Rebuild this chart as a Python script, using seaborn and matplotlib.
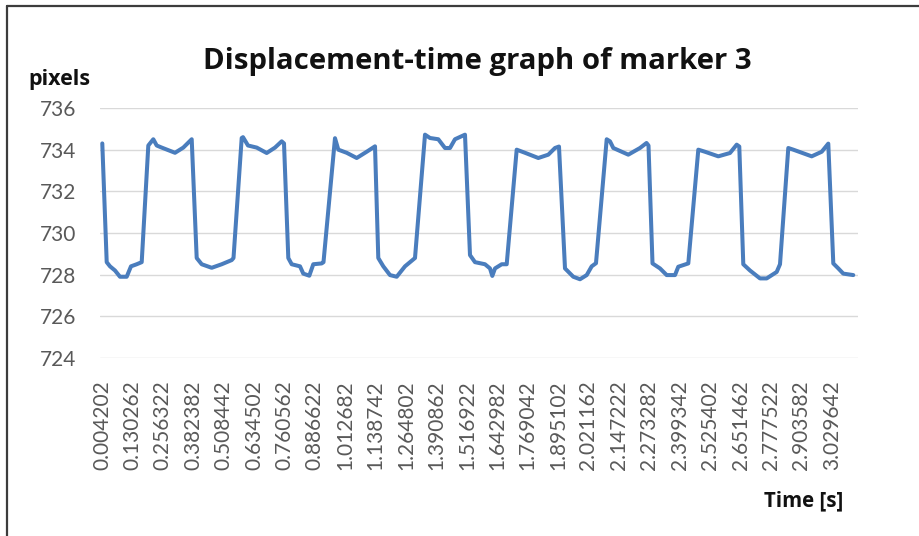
import matplotlib
matplotlib.use("Agg")
import matplotlib.pyplot as plt
from matplotlib.lines import Line2D
import pandas as pd
import seaborn as sns

# Vertical position of marker 3 (pixels) at the listed times (s)
time_s = [
    0.0054, 0.0237, 0.0374, 0.0581, 0.0788, 0.1066, 0.1244, 0.1481, 0.1688,
    0.1962, 0.2169, 0.2310, 0.2517, 0.3069, 0.3413, 0.3761,
    0.3968, 0.4176, 0.4590, 0.5005, 0.5419, 0.5494,
    0.5834, 0.5888, 0.6095, 0.6456, 0.6870, 0.7215, 0.7492, 0.7588,
    0.7766, 0.7907, 0.8251, 0.8388, 0.8637, 0.8802, 0.9151, 0.9225,
    0.9702, 0.9839, 1.0187, 1.0602, 1.1016, 1.1361,
    1.1497, 1.1705, 1.1982, 1.2260, 1.2604, 1.3019,
    1.3434, 1.3641, 1.3985, 1.4263, 1.4470, 1.4677, 1.5092,
    1.5299, 1.5507, 1.5921, 1.6128, 1.6224, 1.6336, 1.6614, 1.6821,
    1.7235, 1.7580, 1.8131, 1.8546, 1.8823, 1.8989,
    1.9238, 1.9582, 1.9860, 2.0138, 2.0345, 2.0523,
    2.0967, 2.1104, 2.1241, 2.1862, 2.2347, 2.2617, 2.2700,
    2.2866, 2.3177, 2.3454, 2.3799, 2.3935, 2.4350,
    2.4765, 2.5042, 2.5594, 2.6079, 2.6357, 2.6464,
    2.6630, 2.6908, 2.7323, 2.7600, 2.8015, 2.8152,
    2.8496, 2.8703, 2.9466, 2.9881, 3.0154,
    3.0362, 3.0569, 3.0776, 3.1191,
]
position_px = [
    734.30, 728.60, 728.40, 728.20, 727.90, 727.90, 728.40, 728.50, 728.60,
    734.20, 734.50, 734.20, 734.10, 733.85, 734.10, 734.50,
    728.80, 728.50, 728.33, 728.50, 728.70, 728.80,
    734.56, 734.60, 734.20, 734.10, 733.84, 734.10, 734.40, 734.30,
    728.80, 728.50, 728.40, 728.05, 727.95, 728.50, 728.54, 728.60,
    734.55, 734.00, 733.85, 733.60, 733.90, 734.16,
    728.80, 728.40, 727.98, 727.90, 728.40, 728.80,
    734.72, 734.56, 734.50, 734.08, 734.08, 734.50, 734.72,
    728.94, 728.60, 728.50, 728.30, 727.94, 728.30, 728.50, 728.50,
    734.00, 733.85, 733.60, 733.76, 734.08, 734.15,
    728.30, 727.90, 727.78, 727.98, 728.40, 728.55,
    734.50, 734.40, 734.08, 733.76, 734.08, 734.32, 734.20,
    728.54, 728.30, 727.98, 727.98, 728.38, 728.54,
    734.00, 733.90, 733.68, 733.84, 734.24, 734.15,
    728.50, 728.20, 727.82, 727.82, 728.13, 728.50,
    734.08, 734.00, 733.68, 733.90, 734.29,
    728.54, 728.30, 728.05, 727.98,
]

x_tick_labels = [
    "0.004202", "0.130262", "0.256322", "0.382382", "0.508442", "0.634502",
    "0.760562", "0.886622", "1.012682", "1.138742", "1.264802", "1.390862",
    "1.516922", "1.642982", "1.769042", "1.895102", "2.021162", "2.147222",
    "2.273282", "2.399342", "2.525402", "2.651462", "2.777522", "2.903582",
    "3.029642",
]
y_ticks = [724, 726, 728, 730, 732, 734, 736]

df = pd.DataFrame({"Time [s]": time_s, "pixels": position_px})

sns.set_theme(style="white")
plt.rcParams["font.family"] = ["Lato", "DejaVu Sans"]

W, H = 920, 536
fig = plt.figure(figsize=(W / 100, H / 100), dpi=100)
fig.patch.set_facecolor("white")
ax = fig.add_axes([100 / W, 1 - 358 / H, 758 / W, 250 / H])

sns.lineplot(data=df, x="Time [s]", y="pixels", ax=ax,
             color="#4a7dbd", linewidth=2.9, solid_joinstyle="round")

ax.set_ylim(724, 736)
ax.set_xlim(-0.0041, 3.1386)
ax.set_yticks(y_ticks)
ax.set_yticklabels([str(v) for v in y_ticks])
ax.set_xticks([float(s) for s in x_tick_labels])
ax.set_xticklabels(x_tick_labels, rotation=90)
ax.tick_params(axis="y", length=0, pad=17, labelsize=15, labelcolor="#595959")
ax.tick_params(axis="x", length=0, pad=16, labelsize=15, labelcolor="#595959")
ax.set_xlabel("")
ax.set_ylabel("")
ax.grid(axis="y", color="#d9d9d9", linewidth=1.0)
ax.grid(axis="x", visible=False)
for s in ax.spines.values():
    s.set_visible(False)

bold_font = ["Open Sans", "DejaVu Sans"]
fig.text(477 / W, 1 - 61 / H, "Displacement-time graph of marker 3",
         ha="center", va="center", fontsize=21.2, fontweight="bold",
         color="#111111", family=bold_font)
fig.text(28 / W, 1 - 79 / H, "pixels", ha="left", va="center",
         fontsize=15.5, fontweight="bold", color="#111111", family=bold_font)
fig.text(843 / W, 1 - 501 / H, "Time [s]", ha="right", va="center",
         fontsize=14.8, fontweight="bold", color="#111111", family=bold_font)

# chart frame (left and top edges)
fig.add_artist(Line2D([7.5 / W, 7.5 / W], [0, 1 - 6 / H],
                      transform=fig.transFigure, color="#3c3c3c", linewidth=1.6))
fig.add_artist(Line2D([7.5 / W, 1], [1 - 6 / H, 1 - 6 / H],
                      transform=fig.transFigure, color="#3c3c3c", linewidth=1.6))

fig.savefig("out.png", dpi=100, facecolor="white")
